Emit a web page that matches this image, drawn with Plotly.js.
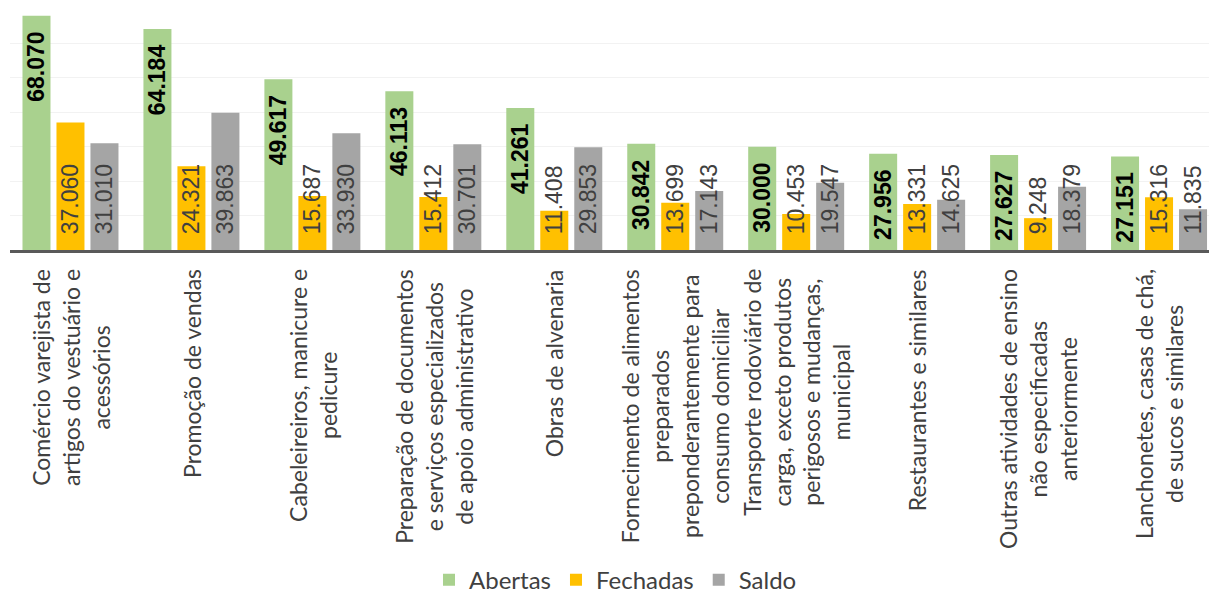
<!DOCTYPE html>
<html>
<head>
<meta charset="utf-8">
<script src="https://cdn.plot.ly/plotly-3.0.1.min.js"></script>
<style>
  html, body { margin: 0; padding: 0; background: #ffffff; }
  #chart { width: 1209px; height: 595px; }
</style>
</head>
<body>
<div id="chart"></div>
<script>
// Category labels (line breaks as in the original chart)
const categories = [
  "Comércio varejista de<br>artigos do vestuário e<br>acessórios",
  "Promoção de vendas",
  "Cabeleireiros, manicure e<br>pedicure",
  "Preparação de documentos<br>e serviços especializados<br>de apoio administrativo",
  "Obras de alvenaria",
  "Fornecimento de alimentos<br>preparados<br>preponderantemente para<br>consumo domiciliar",
  "Transporte rodoviário de<br>carga, exceto produtos<br>perigosos e mudanças,<br>municipal",
  "Restaurantes e similares",
  "Outras atividades de ensino<br>não especificadas<br>anteriormente",
  "Lanchonetes, casas de chá,<br>de sucos e similares"
];

const abertas   = [68070, 64184, 49617, 46113, 41261, 30842, 30000, 27956, 27627, 27151];
const fechadas  = [37060, 24321, 15687, 15412, 11408, 13699, 10453, 13331,  9248, 15316];
const saldo     = [31010, 39863, 33930, 30701, 29853, 17143, 19547, 14625, 18379, 11835];

const seriesNames = ["Abertas", "Fechadas", "Saldo"];
const yTicks = [0, 10000, 20000, 30000, 40000, 50000, 60000, 70000];

const xIdx = categories.map((c, i) => i);

const labelFont = "'Liberation Sans', Arial, sans-serif";
const catFont = "Lato, 'Open Sans', sans-serif";

const traces = [
  {
    type: "bar", name: seriesNames[0], x: xIdx, y: abertas,
    marker: { color: "#A9D18E" },
    texttemplate: "%{y:,}\u00a0\u00a0", textposition: "inside", insidetextanchor: "end",
    textangle: -90, constraintext: "none",
    insidetextfont: { family: labelFont, size: 23, color: "#000000", weight: "bold" },
    hoverinfo: "skip"
  },
  {
    type: "bar", name: seriesNames[1], x: xIdx, y: fechadas,
    marker: { color: "#FFC000" },
    texttemplate: "\u00a0\u00a0%{y:,}", textposition: "inside", insidetextanchor: "start",
    textangle: -90, constraintext: "none",
    insidetextfont: { family: labelFont, size: 23, color: "#404040" },
    hoverinfo: "skip"
  },
  {
    type: "bar", name: seriesNames[2], x: xIdx, y: saldo,
    marker: { color: "#A5A5A5" },
    texttemplate: "\u00a0\u00a0%{y:,}", textposition: "inside", insidetextanchor: "start",
    textangle: -90, constraintext: "none",
    insidetextfont: { family: labelFont, size: 23, color: "#404040" },
    hoverinfo: "skip"
  }
];

const annotations = categories.map((c, i) => ({
  x: i, xref: "x", y: 0, yref: "paper",
  text: c, textangle: -90, align: "center",
  xanchor: "center", yanchor: "top", yshift: -17,
  showarrow: false,
  font: { family: catFont, size: 23, color: "#404040" }
}));

const layout = {
  width: 1209, height: 595,
  margin: { l: 9.5, r: 0, t: 9, b: 345, pad: 0, autoexpand: false },
  paper_bgcolor: "#ffffff", plot_bgcolor: "#ffffff",
  separators: ",.",
  barmode: "group",
  bargap: 0.157, bargroupgap: 0.176,
  showlegend: true,
  legend: {
    orientation: "h", x: 0.505, xanchor: "center", y: -1.37, yanchor: "middle",
    font: { family: catFont, size: 24, color: "#404040" },
    itemwidth: 30, traceorder: "normal"
  },
  xaxis: {
    type: "linear", range: [-0.5, 9.413], showticklabels: false, ticks: "",
    showgrid: false, zeroline: false,
    showline: true, linecolor: "#595959", linewidth: 3
  },
  yaxis: {
    range: [0, 70000], tickvals: yTicks, showticklabels: false, ticks: "",
    showgrid: true, gridcolor: "#F2F2F2", gridwidth: 1, zeroline: false, showline: false
  },
  annotations: annotations,
  font: { family: catFont }
};

Plotly.newPlot("chart", traces, layout, { displayModeBar: false, staticPlot: true });
</script>
</body>
</html>
